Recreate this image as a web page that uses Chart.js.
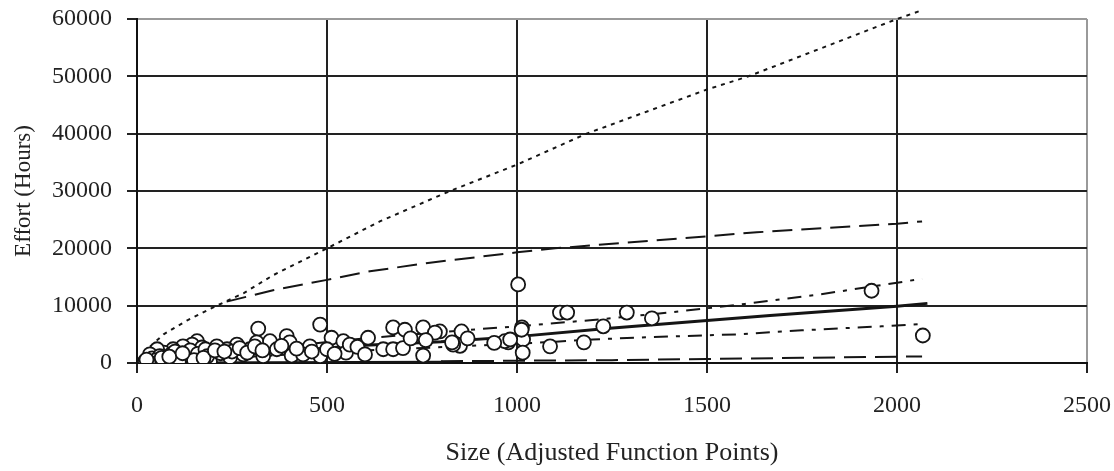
<!DOCTYPE html>
<html>
<head>
<meta charset="utf-8">
<script src="https://cdn.jsdelivr.net/npm/chart.js@4/dist/chart.umd.min.js"></script>
<style>
  html, body { margin: 0; padding: 0; background: #fff; }
  #wrap { width: 1114px; height: 471px; position: relative; }
</style>
</head>
<body>
<div id="wrap"><canvas id="c" width="1114" height="471"></canvas></div>
<script>
// ---------- DATA ----------
const xTicks = [0, 500, 1000, 1500, 2000, 2500];
const yTicks = [0, 10000, 20000, 30000, 40000, 50000, 60000];

// observed projects: size (adjusted FP) and effort (hours)
const projSize = [1003, 1933, 2068, 1113, 1132, 1289, 1355, 1227, 1176, 1087, 1013, 1016, 1015, 977, 968, 1012,
  854, 850, 832, 797, 482, 319, 394, 402, 407, 455, 482, 512, 543, 550, 608, 648, 674, 674, 705, 753, 784, 753,
  829, 315, 350, 297, 263, 237, 200, 158, 145, 171, 121, 95, 70, 53, 34, 21, 78, 113, 192, 245, 210, 280, 332,
  368, 437, 982, 40, 60, 90, 100, 130, 140, 160, 180, 185, 220, 250, 270, 290, 310, 330, 380, 420, 460, 500,
  520, 560, 580, 600, 700, 720, 760, 870, 940, 50, 30, 110, 150, 25, 65, 85, 120, 175, 205, 230];
const projEffort = [13700, 12600, 4800, 8800, 8800, 8800, 7800, 6400, 3600, 2900, 6200, 4100, 1800, 3600, 3800, 5800,
  5500, 3000, 3200, 5500, 6700, 6000, 4700, 3600, 1300, 2900, 1200, 4400, 3800, 1800, 4400, 2400, 6200, 2400, 5800, 6200, 5300, 1300,
  3600, 3600, 3800, 2400, 3200, 2400, 1800, 3800, 3200, 2700, 2900, 2400, 1800, 2400, 1500, 300, 600, 1000, 300, 1000, 2900, 1500, 1200,
  2400, 1500, 4100, 800, 1200, 1500, 2000, 1400, 2200, 1600, 2400, 1200, 1700, 2000, 2600, 1800, 2900, 2200, 3000, 2500, 2000, 2400,
  1600, 3200, 2800, 1500, 2600, 4300, 4000, 4300, 3500, 500, 200, 200, 500, 600, 900, 1100, 1700, 900, 2200, 2000];

// upper dotted curve
const dottedSize = [20, 35, 70, 131, 210, 281, 358, 500, 639, 824, 1000, 1183, 1500, 1609, 2000, 2060];
const dottedEffort = [1600, 2900, 5000, 7400, 10000, 12200, 15300, 20000, 24700, 30000, 34600, 40000, 47700, 50000, 60000, 61400];

// upper long-dash curve
const upperDashSize = [236, 358, 500, 613, 771, 1000, 1100, 1500, 1631, 2000, 2066];
const upperDashEffort = [10700, 12700, 14500, 16000, 17500, 19300, 20000, 22100, 22800, 24300, 24700];

// upper dash-dot curve
const upperDotDashSize = [20, 100, 200, 300, 400, 600, 800, 1000, 1200, 1400, 1600, 1800, 2000, 2066];
const upperDotDashEffort = [300, 900, 1700, 2400, 3000, 4300, 5400, 6400, 7500, 8800, 10300, 12000, 14000, 14700];

// solid fitted curve
const fitSize = [20, 100, 200, 300, 400, 500, 600, 800, 1000, 1236, 1500, 1666, 2000, 2080];
const fitEffort = [150, 600, 1100, 1600, 2100, 2600, 3100, 3700, 4600, 6000, 7400, 8300, 9900, 10400];

// lower dash-dot curve
const lowerDotDashSize = [20, 100, 200, 300, 400, 500, 600, 780, 1045, 1200, 1340, 1580, 1750, 1960, 2066];
const lowerDotDashEffort = [50, 300, 700, 1100, 1500, 1900, 2200, 2700, 3500, 4100, 4500, 5000, 5700, 6400, 6800];

// lower long-dash curve
const lowerDashSize = [800, 1000, 1250, 1500, 1750, 2000, 2066];
const lowerDashEffort = [300, 400, 500, 700, 900, 1100, 1150];

// lower solid segment near zero
const lowerSolidSize = [30, 350, 805];
const lowerSolidEffort = [0, 60, 150];

// ---------- BUILD ----------
const pts = (xs, ys) => xs.map((x, i) => ({ x: x, y: ys[i] }));
const INK = '#151515';
const serif = '"Liberation Serif", "Times New Roman", serif';

function lineDs(xs, ys, dash, width, order, clip) {
  const d = {
    type: 'scatter', showLine: true, data: pts(xs, ys),
    borderColor: INK, borderWidth: width, borderDash: dash,
    pointRadius: 0, pointHoverRadius: 0, fill: false, tension: 0,
    order: order
  };
  if (clip === false) d.clip = false;
  return d;
}

const datasets = [
  {
    type: 'scatter', data: pts(projSize, projEffort),
    pointStyle: 'circle', pointRadius: 7, pointBorderWidth: 1.8,
    pointBackgroundColor: '#ffffff', pointBorderColor: INK, order: 0
  },
  lineDs(dottedSize, dottedEffort, [4, 5], 2, 5, false),
  lineDs(upperDashSize, upperDashEffort, [20, 9], 2, 5),
  lineDs(upperDotDashSize, upperDotDashEffort, [14, 8, 4, 8], 2, 5),
  lineDs(fitSize, fitEffort, [], 3, 4),
  lineDs(lowerDotDashSize, lowerDotDashEffort, [14, 8, 4, 8], 2, 5),
  lineDs(lowerDashSize, lowerDashEffort, [22, 9], 2, 5),
  lineDs(lowerSolidSize, lowerSolidEffort, [], 3, 5)
];

new Chart(document.getElementById('c'), {
  type: 'scatter',
  data: { datasets: datasets },
  options: {
    responsive: false,
    animation: false,
    events: [],
    layout: { padding: { top: 19, right: 27, left: 0, bottom: 0 } },
    plugins: { legend: { display: false }, tooltip: { enabled: false } },
    scales: {
      x: {
        type: 'linear', min: xTicks[0], max: xTicks[xTicks.length - 1],
        afterBuildTicks: (s) => { s.ticks = xTicks.map(v => ({ value: v })); },
        afterFit: (s) => { s.height = 108; s.paddingLeft = 0; s.paddingRight = 0; },
        ticks: { color: '#222', font: { family: serif, size: 24 }, padding: 18, maxRotation: 0,
                 callback: (v) => String(v) },
        grid: {
          color: (c) => (c.tick && c.tick.value === 2500) ? '#9a9a9a' : '#222',
          lineWidth: 2, tickLength: 10, tickColor: '#222', tickWidth: 2
        },
        border: { color: '#111', width: 2 },
        title: {
          display: true, text: 'Size (Adjusted Function Points)', color: '#222',
          font: { family: serif, size: 26 }, padding: { top: 0, bottom: 2 }
        }
      },
      y: {
        type: 'linear', min: yTicks[0], max: yTicks[yTicks.length - 1],
        afterBuildTicks: (s) => { s.ticks = yTicks.map(v => ({ value: v })); },
        afterFit: (s) => { s.width = 137; s.paddingTop = 0; s.paddingBottom = 0; },
        ticks: { color: '#222', font: { family: serif, size: 24 }, padding: 15,
                 callback: (v) => String(v) },
        grid: {
          color: (c) => (c.tick && c.tick.value === 60000) ? '#9a9a9a' : '#222',
          lineWidth: 2, tickLength: 10, tickColor: '#222', tickWidth: 2
        },
        border: { color: '#111', width: 2 },
        title: {
          display: true, text: 'Effort (Hours)', color: '#222',
          font: { family: serif, size: 23 }, padding: { top: 10, bottom: 0 }
        }
      }
    }
  }
});
</script>
</body>
</html>
